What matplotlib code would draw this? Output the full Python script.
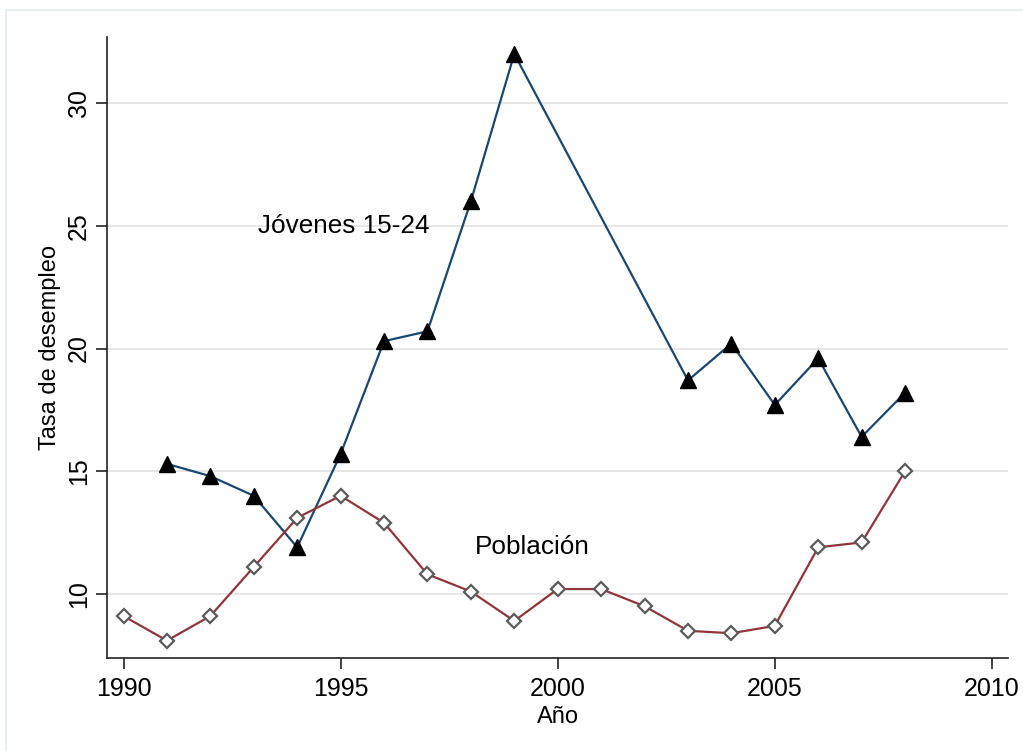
import matplotlib
matplotlib.use("Agg")
import matplotlib.pyplot as plt
from matplotlib.lines import Line2D

plt.rcParams['font.family'] = ['Liberation Sans', 'DejaVu Sans']

# Youth unemployment (15-24), no data 2000-2002
years_youth = [1991, 1992, 1993, 1994, 1995, 1996, 1997, 1998, 1999,
               2003, 2004, 2005, 2006, 2007, 2008]
youth = [15.3, 14.8, 14.0, 11.9, 15.7, 20.3, 20.7, 26.0, 32.0,
         18.7, 20.2, 17.7, 19.6, 16.4, 18.2]

# Total population unemployment
years_pop = list(range(1990, 2009))
population = [9.1, 8.1, 9.1, 11.1, 13.1, 14.0, 12.9, 10.8, 10.1, 8.9,
              10.2, 10.2, 9.5, 8.5, 8.4, 8.7, 11.9, 12.1, 15.0]

x_ticks = [1990, 1995, 2000, 2005, 2010]
y_ticks = [10, 15, 20, 25, 30]

fig = plt.figure(figsize=(10.23, 7.51), dpi=100)
# faint graph-region outline along the top and left edges
fig.lines.append(Line2D([0.006, 1.0], [0.987, 0.987], transform=fig.transFigure,
                        color='#e6ecee', lw=1.3))
fig.lines.append(Line2D([0.006, 0.006], [0.0, 0.987], transform=fig.transFigure,
                        color='#e6ecee', lw=1.3))
ax = fig.add_axes([0.1046, 0.1238, 0.8807, 0.8269])

# the 1999-2003 stretch joins the two observed segments
ax.plot(years_youth, youth, color='#1a476f', lw=1.6, marker='^', markersize=12,
        markerfacecolor='black', markeredgecolor='black', zorder=4)

ax.plot(years_pop, population, color='#90353b', lw=1.6, marker='D', markersize=7,
        markerfacecolor='white', markeredgecolor='#5a5a5a', markeredgewidth=1.6, zorder=4)

ax.text(1993.1, 25.0, 'Jóvenes 15-24', fontsize=18.8, va='center', ha='left')
ax.text(1998.1, 11.9, 'Población', fontsize=18.8, va='center', ha='left')

ax.set_xlim(1989.62, 2010.37)
ax.set_ylim(7.39, 32.69)
ax.set_xticks(x_ticks)
ax.set_yticks(y_ticks)
ax.set_yticklabels([str(v) for v in y_ticks], rotation=90, va='center')
ax.tick_params(axis='both', labelsize=18, length=8, width=1.2, color='#222222')
ax.tick_params(axis='x', pad=6)
ax.grid(axis='y', color='#e2e2e2', lw=1.2, zorder=0)
ax.set_axisbelow(True)
for s in ('top', 'right'):
    ax.spines[s].set_visible(False)
for s in ('left', 'bottom'):
    ax.spines[s].set_linewidth(1.2)
    ax.spines[s].set_color('#222222')
ax.set_xlabel('Año', fontsize=17, labelpad=3)
ax.set_ylabel('Tasa de desempleo', fontsize=17, labelpad=4)

fig.savefig('out.png', dpi=100)
